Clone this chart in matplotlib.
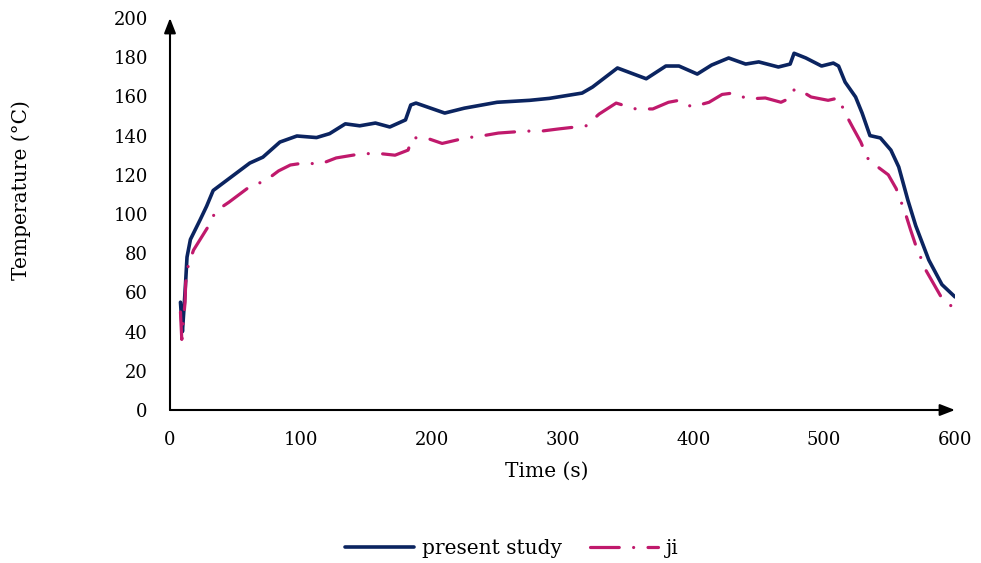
import matplotlib.pyplot as plt

# present study (navy, solid)
t_present = [8, 8.5, 9.5, 11, 12, 13, 15.6, 23, 28, 33, 41, 51, 61, 71, 84, 97,
             112, 122, 134, 145, 157, 168, 180, 184, 188, 210, 225, 250, 275,
             290, 315, 323, 342, 364, 379, 389, 403, 414, 427, 440, 450, 465,
             474, 477, 486, 498, 507, 511, 516, 524, 529, 535, 543, 551, 557,
             564, 570, 580, 590, 600]
T_present = [55, 50, 40, 55, 66, 78, 87, 97, 104, 112, 116, 121, 126, 129, 136.7,
             139.8, 139, 141, 146, 145, 146.4, 144.4, 148, 155.6, 156.6, 151.5,
             154, 157, 158, 159, 161.7, 164.8, 174.5, 169, 175.5, 175.5, 171.4,
             176, 179.6, 176.5, 177.6, 175, 176.5, 182, 179.6, 175.5, 177,
             175.5, 167.3, 159.7, 151.5, 140, 138.8, 132.6, 124, 107, 94, 76.5,
             64, 57.7]

# ji (magenta, dash-dot)
t_ji = [8, 9, 11.5, 12, 14, 18, 29, 35, 45, 61, 73, 83, 92, 102, 115, 127, 145,
        158, 172, 182, 185, 195, 208, 226, 238, 251, 272, 284, 297, 318, 328,
        341, 356, 369, 381, 389, 399, 412, 422, 430, 442, 455, 467, 474, 477,
        480, 490, 503, 511, 516, 522, 528, 533, 539, 549, 555, 562, 566, 570,
        578, 584, 590, 600]
T_ji = [50, 36, 55, 65, 74, 81.6, 93.4, 101.5, 106, 114, 117, 122, 125, 126,
        125.5, 128.6, 130.6, 131, 130, 132.6, 138.8, 139, 136, 138.8, 139.8,
        141.3, 142.3, 142.3, 143.4, 145, 151, 156.6, 153.6, 153.6, 157, 158,
        154.6, 157, 161, 161.7, 158.7, 159.2, 157, 159.2, 163.3, 163.8, 159.7,
        158, 159.2, 151.5, 144, 136.7, 128.6, 125, 120, 113, 100.5, 92, 84,
        71, 64, 57, 51.5]

x_ticks = [0, 100, 200, 300, 400, 500, 600]
y_ticks = list(range(0, 201, 20))

NAVY = "#0B2460"
MAGENTA = "#C0196C"

plt.rcParams["font.family"] = "DejaVu Serif"

fig = plt.figure(figsize=(9.81, 5.63), dpi=100)
ax = fig.add_axes([170 / 981, 153 / 563, 785 / 981, 392 / 563])

ax.plot(t_present, T_present, color=NAVY, lw=2.6, solid_joinstyle="round",
        solid_capstyle="round", label="present study", zorder=3)
ax.plot(t_ji, T_ji, color=MAGENTA, lw=2.3, dash_capstyle="round",
        linestyle=(0, (9, 4.5, 0.01, 4.5)), label="ji", zorder=4)

ax.set_xlim(0, 600)
ax.set_ylim(0, 200)
ax.set_xticks(x_ticks)
ax.set_yticks(y_ticks)
ax.tick_params(length=0, labelsize=13)
ax.tick_params(axis="y", pad=16)
ax.tick_params(axis="x", pad=15)
for s in ax.spines.values():
    s.set_visible(False)

# axis lines with arrow heads
arrow = dict(arrowstyle="-|>,head_length=0.9,head_width=0.35", color="black",
             lw=1.5, shrinkA=0, shrinkB=0)
ax.annotate("", xy=(600, 0), xytext=(0, 0), arrowprops=arrow,
            annotation_clip=False, zorder=5)
ax.annotate("", xy=(0, 200), xytext=(0, 0), arrowprops=arrow,
            annotation_clip=False, zorder=5)

ax.set_xlabel("Time (s)", fontsize=14.5)
ax.set_ylabel("Temperature (°C)", fontsize=14.5)
ax.xaxis.set_label_coords(0.48, -0.133)
ax.yaxis.set_label_coords(-0.177, 0.56)

fig.legend(loc="center", bbox_to_anchor=(0.522, 14 / 563),
           ncol=2, frameon=False, fontsize=14.5, handlelength=3.4,
           columnspacing=1.4, handletextpad=0.4)

fig.savefig("out.png", dpi=100)
